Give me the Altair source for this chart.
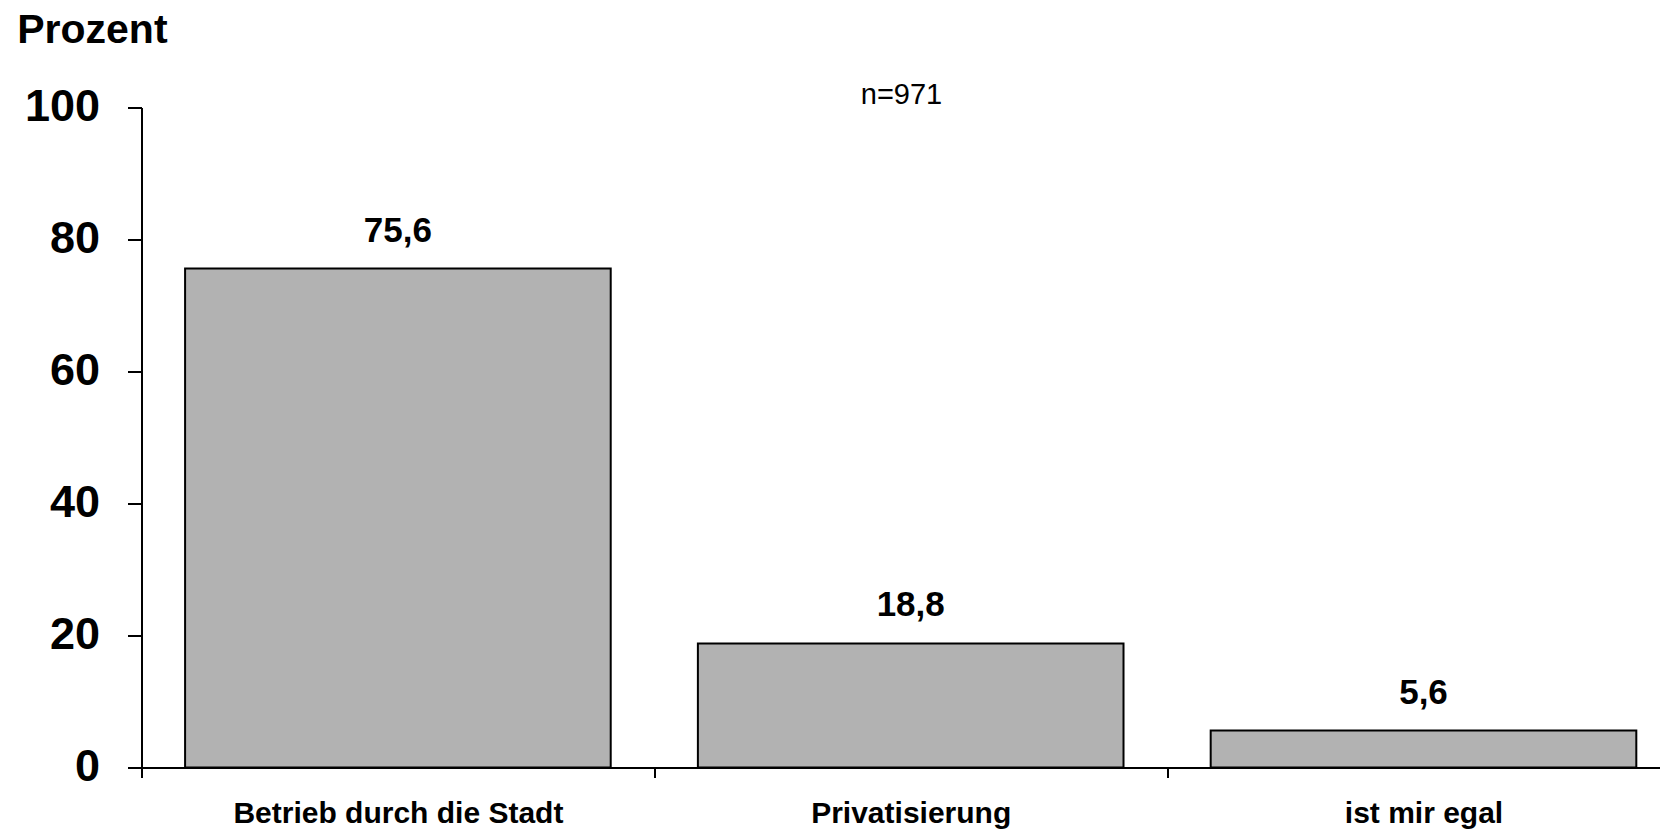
import altair as alt
import pandas as pd

categories = ["Betrieb durch die Stadt", "Privatisierung", "ist mir egal"]
values = [75.6, 18.8, 5.6]
value_labels = [f"{v:.1f}".replace(".", ",") for v in values]
y_ticks = [0, 20, 40, 60, 80, 100]
sample_note = ["n=971"]
y_title = "Prozent"

FONT = "Liberation Sans"
RANGE_W = 1538.4

df = pd.DataFrame({"cat": categories, "val": values, "lab": value_labels})
note_df = pd.DataFrame({"t": sample_note})

x_enc = alt.X(
    "cat:N",
    sort=categories,
    scale=alt.Scale(range=[0, RANGE_W], paddingInner=0, paddingOuter=0),
    axis=alt.Axis(
        title=None, labelAngle=0, labelFont=FONT, labelFontSize=30,
        labelFontWeight="bold", labelColor="black", labelBaseline="alphabetic",
        labelPadding=45, labelLimit=0, tickBand="extent", tickSize=10, tickColor="black",
        tickWidth=2, domainColor="black", domainWidth=2, grid=False,
    ),
)
y_enc = alt.Y(
    "val:Q",
    scale=alt.Scale(domain=[0, 100], nice=False, zero=True),
    axis=alt.Axis(
        values=y_ticks, title=y_title, titleAngle=0, titleAlign="left",
        titleBaseline="alphabetic", titleX=-124.8, titleY=-64.8,
        titleFont=FONT, titleFontSize=41, titleFontWeight="bold", titleColor="black",
        labelFont=FONT, labelFontSize=45, labelFontWeight="bold", labelColor="black",
        labelBaseline="alphabetic", labelOffset=13, labelPadding=28,
        tickSize=14, tickColor="black", tickWidth=2,
        domainColor="black", domainWidth=2, grid=False,
    ),
)

bars = alt.Chart(df).mark_bar(
    color="#b2b2b2", stroke="black", strokeWidth=2, width=alt.RelativeBandSize(0.83)
).encode(x=x_enc, y=y_enc)
labels = alt.Chart(df).mark_text(
    baseline="alphabetic", dy=-27, fontSize=35, fontWeight="bold", font=FONT, color="black"
).encode(x=alt.X("cat:N", sort=categories), y="val:Q", text="lab:N")
note = alt.Chart(note_df).mark_text(
    baseline="alphabetic", align="center", fontSize=29, font=FONT, color="black"
).encode(x=alt.value(760), y=alt.value(-3.5), text="t:N")

chart = alt.layer(bars, labels, note).properties(
    width=1518, height=660,
    autosize=alt.AutoSizeParams(type="none"),
    padding={"left": 133.5, "top": 99.5, "right": 0, "bottom": 62},
    background="white",
).configure_view(stroke=None)

chart.save("out.html", embed_options={"renderer": "svg", "actions": False})
